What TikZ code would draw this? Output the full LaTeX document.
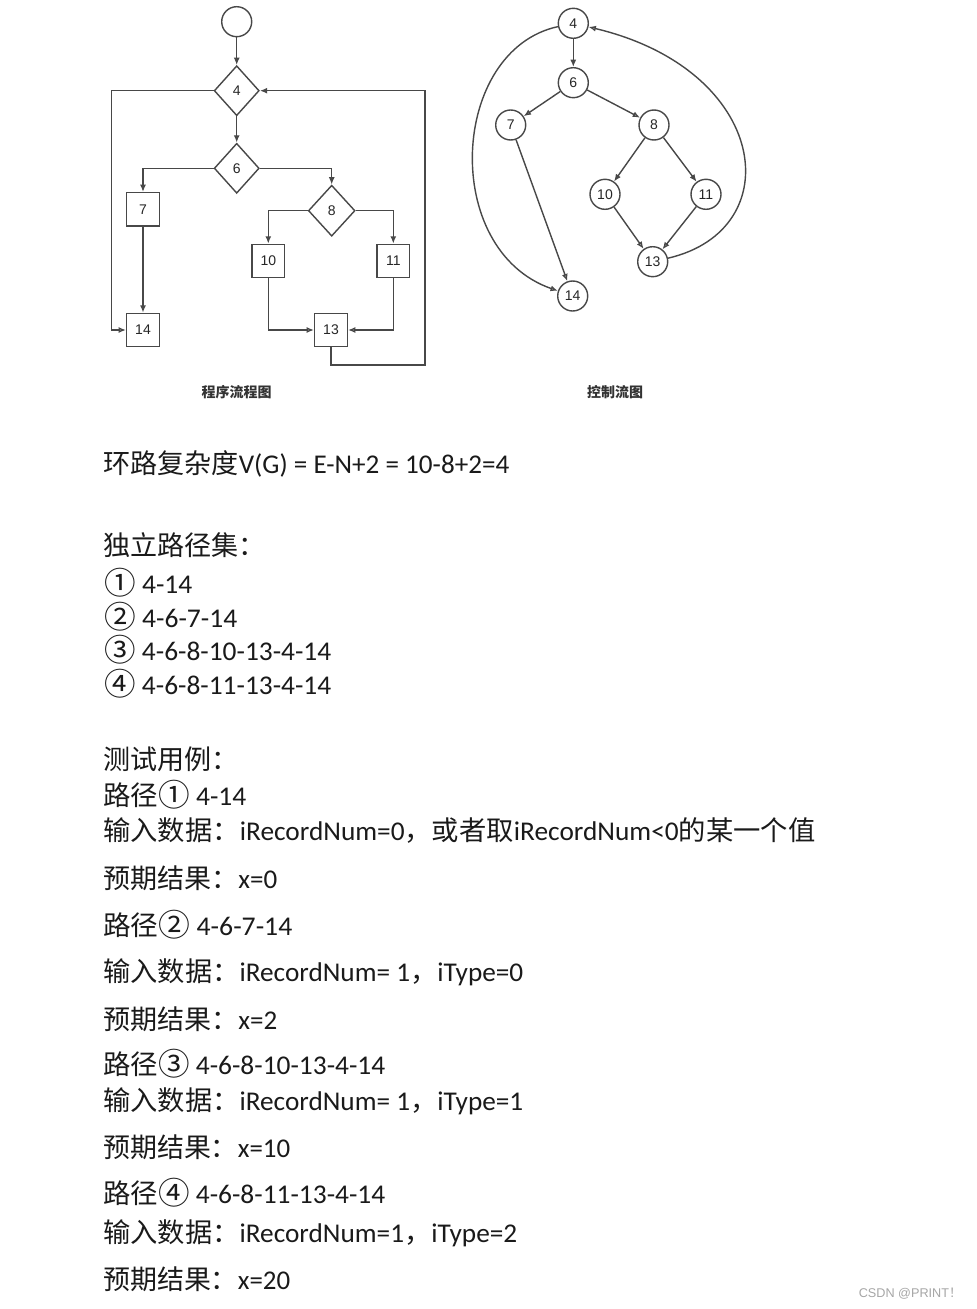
\documentclass[tikz,border=0pt]{standalone}
\usepackage{fontspec}
\usepackage{graphicx}
\setmainfont{Carlito}
\newfontfamily\cjk{Noto Sans CJK SC}
\newfontfamily\arialf{Liberation Sans}
\usetikzlibrary{shapes.geometric,arrows.meta}
\definecolor{lnc}{HTML}{484848}
\definecolor{txc}{HTML}{1A1A1A}
\newlength\pxu \setlength\pxu{0.75pt}
% stretch one text line to a width given in pixels
\newcommand\fitw[2]{\resizebox{#1\pxu}{\height}{#2}}
% enlarged circled digit
\newcommand\cnum[1]{\raisebox{-0.06em}{\scalebox{1.15}{\cjk #1}}}

\begin{document}
\begin{tikzpicture}[
        x=0.75pt, y=-0.75pt,
        num/.style  ={font=\arialf\fontsize{10.5}{12}\selectfont, text=black!85, inner sep=0pt},
        dec/.style  ={num, diamond, draw=lnc, line width=1.05pt, minimum width=33.75pt, minimum height=37.5pt},
        blk/.style  ={num, rectangle, draw=lnc, line width=1.05pt, minimum width=24.5pt, minimum height=25pt},
        cir/.style  ={num, circle, draw=lnc, line width=1.05pt, minimum size=22.5pt},
        fl/.style   ={draw=lnc, line width=1.05pt, -{Latex[length=5.5pt,width=4.5pt]}},
        flo/.style  ={draw=lnc, line width=1.05pt, -{Latex[open,length=5.5pt,width=4.5pt]}},
        figcap/.style ={font=\cjk\bfseries\fontsize{10.5}{12}\selectfont, text=black!80, inner sep=0pt},
        body/.style ={anchor=base west, inner sep=0pt, text=txc, font=\fontsize{20.3}{24}\selectfont},
    ]
    \fill[white] (0,0) rectangle (976,1309);

    %% Program flowchart
    \node[cir] (s)   at (236.7, 21.7) {};
    \node[dec] (d4)  at (236.7, 90.7) {4};
    \node[dec] (d6)  at (236.7,168.3) {6};
    \node[dec, minimum width=35pt, minimum height=38.25pt] (d8) at (331.7,210.7) {8};
    \node[blk] (b7)  at (143,209.3) {7};
    \node[blk] (b14) at (143,330)   {14};
    \node[blk] (b10) at (268.3,261) {10};
    \node[blk] (b11) at (393.3,261) {11};
    \node[blk] (b13) at (331,330)   {13};
    \coordinate (lft) at (111.7,330);
    \coordinate (rb)  at (425,365);

    \draw[fl] (s) -- (d4);
    \draw[fl] (d4) -- (d6);
    \draw[fl] (d6.west) -| (b7);
    \draw[fl] (d6.east) -| (d8);
    \draw[fl] (d8.west) -| (b10);
    \draw[fl] (d8.east) -| (b11);
    \draw[fl] (b7) -- (b14);
    \draw[flo] (d4.west) -| (lft) -- (b14);
    \draw[flo] (b10) |- (b13);
    \draw[flo] (b11) |- (b13);
    \draw[fl] (b13) |- (rb) |- (d4.east);

    \node[figcap] (cap1) at (236.7,391.7) {程序流程图};

    %% Control flow graph
    \node[cir] (c4)  at (573.3, 23.3) {4};
    \node[cir] (c6)  at (573.3, 82.7) {6};
    \node[cir] (c7)  at (510.7,125)   {7};
    \node[cir] (c8)  at (654,125)     {8};
    \node[cir] (c10) at (605,194.3)   {10};
    \node[cir] (c11) at (706,194.3)   {11};
    \node[cir] (c13) at (652.7,261.7) {13};
    \node[cir] (c14) at (572.7,296)   {14};

    \draw[fl]  (c4) -- (c6);
    \draw[flo] (c6) -- (c7);
    \draw[flo] (c6) -- (c8);
    \draw[fl]  (c8) -- (c10);
    \draw[fl]  (c8) -- (c11);
    \draw[flo] (c10) -- (c13);
    \draw[flo] (c11) -- (c13);
    \draw[flo] (c7) -- (c14);
    \draw[flo] (c4) .. controls (450,50) and (440,250) .. (c14);
    \draw[flo] (c13) .. controls (790,230) and (770,70) .. (c4);

    \node[figcap] (cap2) at (615,391.7) {控制流图};

    %% Cyclomatic complexity and independent paths
    \node[body] (vg) at (103,473) {\fitw{406}{{\cjk 环路复杂度}V(G) = E-N+2 = 10-8+2=4}};
    \node[body] (ip) at (103,555) {\cjk 独立路径集：};
    \node[body] (p1) at (104,593) {\fitw{88}{\cnum{①} 4-14}};
    \node[body] (p2) at (104,627) {\fitw{133}{\cnum{②} 4-6-7-14}};
    \node[body] (p3) at (104,660) {\fitw{227}{\cnum{③} 4-6-8-10-13-4-14}};
    \node[body] (p4) at (104,694) {\fitw{227}{\cnum{④} 4-6-8-11-13-4-14}};

    %% Test cases
    \node[body] (tc)  at (103,769)  {\cjk 测试用例：};
    \node[body] (t1a) at (103,805)  {\fitw{143}{{\cjk 路径}\cnum{①} 4-14}};
    \node[body] (t1b) at (103,840)  {\fitw{712}{{\cjk 输入数据：}iRecordNum=0{\cjk ，或者取}iRecordNum<0{\cjk 的某一个值}}};
    \node[body] (t1c) at (103,888)  {\fitw{174}{{\cjk 预期结果：}x=0}};
    \node[body] (t2a) at (103,935)  {\fitw{189}{{\cjk 路径}\cnum{②} 4-6-7-14}};
    \node[body] (t2b) at (103,981)  {\fitw{420}{{\cjk 输入数据：}iRecordNum= 1{\cjk ，}iType=0}};
    \node[body] (t2c) at (103,1029) {\fitw{174}{{\cjk 预期结果：}x=2}};
    \node[body] (t3a) at (103,1074) {\fitw{282}{{\cjk 路径}\cnum{③} 4-6-8-10-13-4-14}};
    \node[body] (t3b) at (103,1110) {\fitw{420}{{\cjk 输入数据：}iRecordNum= 1{\cjk ，}iType=1}};
    \node[body] (t3c) at (103,1157) {\fitw{187}{{\cjk 预期结果：}x=10}};
    \node[body] (t4a) at (103,1203) {\fitw{282}{{\cjk 路径}\cnum{④} 4-6-8-11-13-4-14}};
    \node[body] (t4b) at (103,1242) {\fitw{414}{{\cjk 输入数据：}iRecordNum=1{\cjk ，}iType=2}};
    \node[body] (t4c) at (103,1289) {\fitw{187}{{\cjk 预期结果：}x=20}};

    \node[anchor=east, inner sep=0pt, text=gray!70, font=\arialf\fontsize{9.5}{11}\selectfont]
        (wm) at (962,1294) {CSDN @PRINT{\cjk ！}};
\end{tikzpicture}
\end{document}
